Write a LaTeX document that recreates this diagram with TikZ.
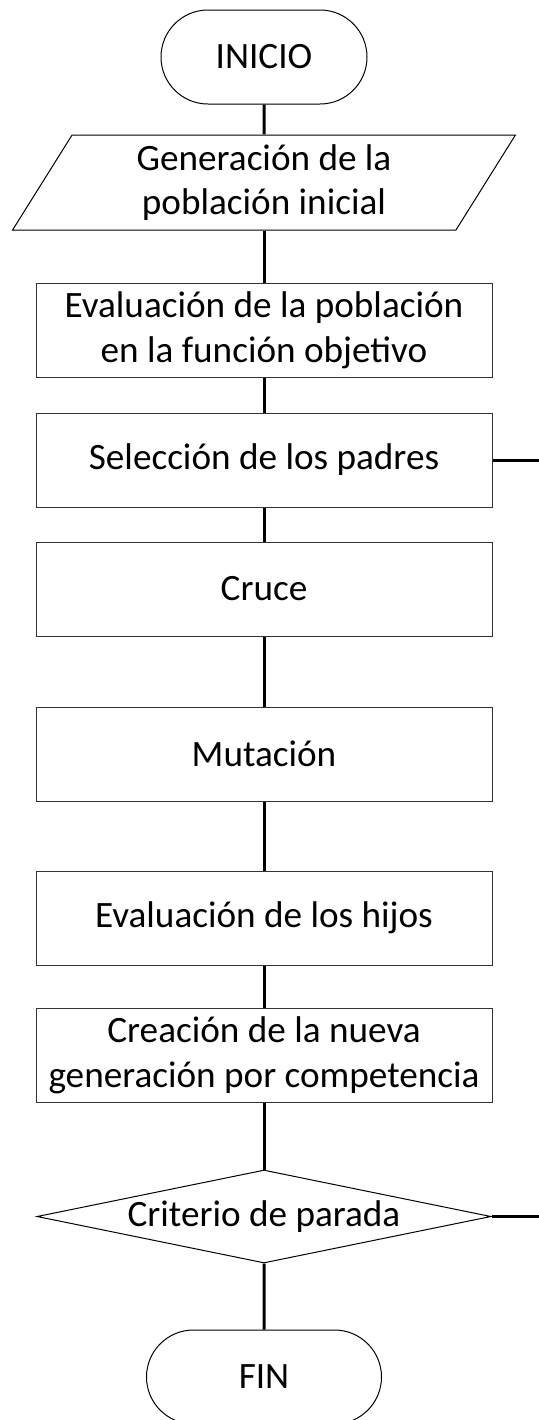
\documentclass[tikz,border=0pt]{standalone}
\usepackage{fontspec}
\setmainfont{Carlito}
\usetikzlibrary{shapes.geometric,shapes.misc}

\tikzset{
  base/.style={draw=black, line width=0.5pt, align=center, inner sep=0pt,
    font=\fontsize{18.6}{22.3}\selectfont},
  terminal/.style={base, rounded rectangle, minimum height=47pt},
  inputbox/.style={base, trapezium, trapezium stretches=true,
    trapezium left angle=62.7, trapezium right angle=117.3,
    minimum width=252pt, minimum height=47.5pt},
  process/.style={base, draw=black!80, rectangle, minimum width=228pt, minimum height=47pt},
  decision/.style={base, diamond, aspect=4.9, minimum width=227pt, minimum height=46.5pt},
  conn/.style={draw=black, line width=1.5pt}
}

\begin{document}
\begin{tikzpicture}[x=0.5pt, y=-0.5pt]
	\useasboundingbox (0,0) rectangle (539,1420);
	% nodes
	\node[terminal, minimum width=103pt] (inicio) at (264,57) {INICIO};
	\node[inputbox] (gen) at (264,182.5) {Generación de la\\población inicial};
	\node[process] (evpob) at (264,330) {Evaluación de la población\\en la función objetivo};
	\node[process] (sel) at (264,460) {Selección de los padres};
	\node[process] (cruce) at (264,589) {Cruce};
	\node[process] (mut) at (264,754) {Mutación};
	\node[process] (evhij) at (264,918) {Evaluación de los hijos};
	\node[process] (crea) at (264,1055.5) {Creación de la nueva\\generación por competencia};
	\node[decision] (crit) at (264,1216.5) {Criterio de parada};
	\node[terminal, minimum width=117.5pt] (fin) at (264,1377) {FIN};
	\coordinate (selout) at (539,460);
	\coordinate (critout) at (539,1216.5);
	% connectors
	\draw[conn] (inicio) -- (gen);
	\draw[conn] (gen) -- (evpob);
	\draw[conn] (evpob) -- (sel);
	\draw[conn] (sel) -- (cruce);
	\draw[conn] (cruce) -- (mut);
	\draw[conn] (mut) -- (evhij);
	\draw[conn] (evhij) -- (crea);
	\draw[conn] (crea) -- (crit);
	\draw[conn] (crit) -- (fin);
	\draw[conn] (sel.east) -- (selout);
	\draw[conn] (crit.east) -- (critout);
\end{tikzpicture}
\end{document}
